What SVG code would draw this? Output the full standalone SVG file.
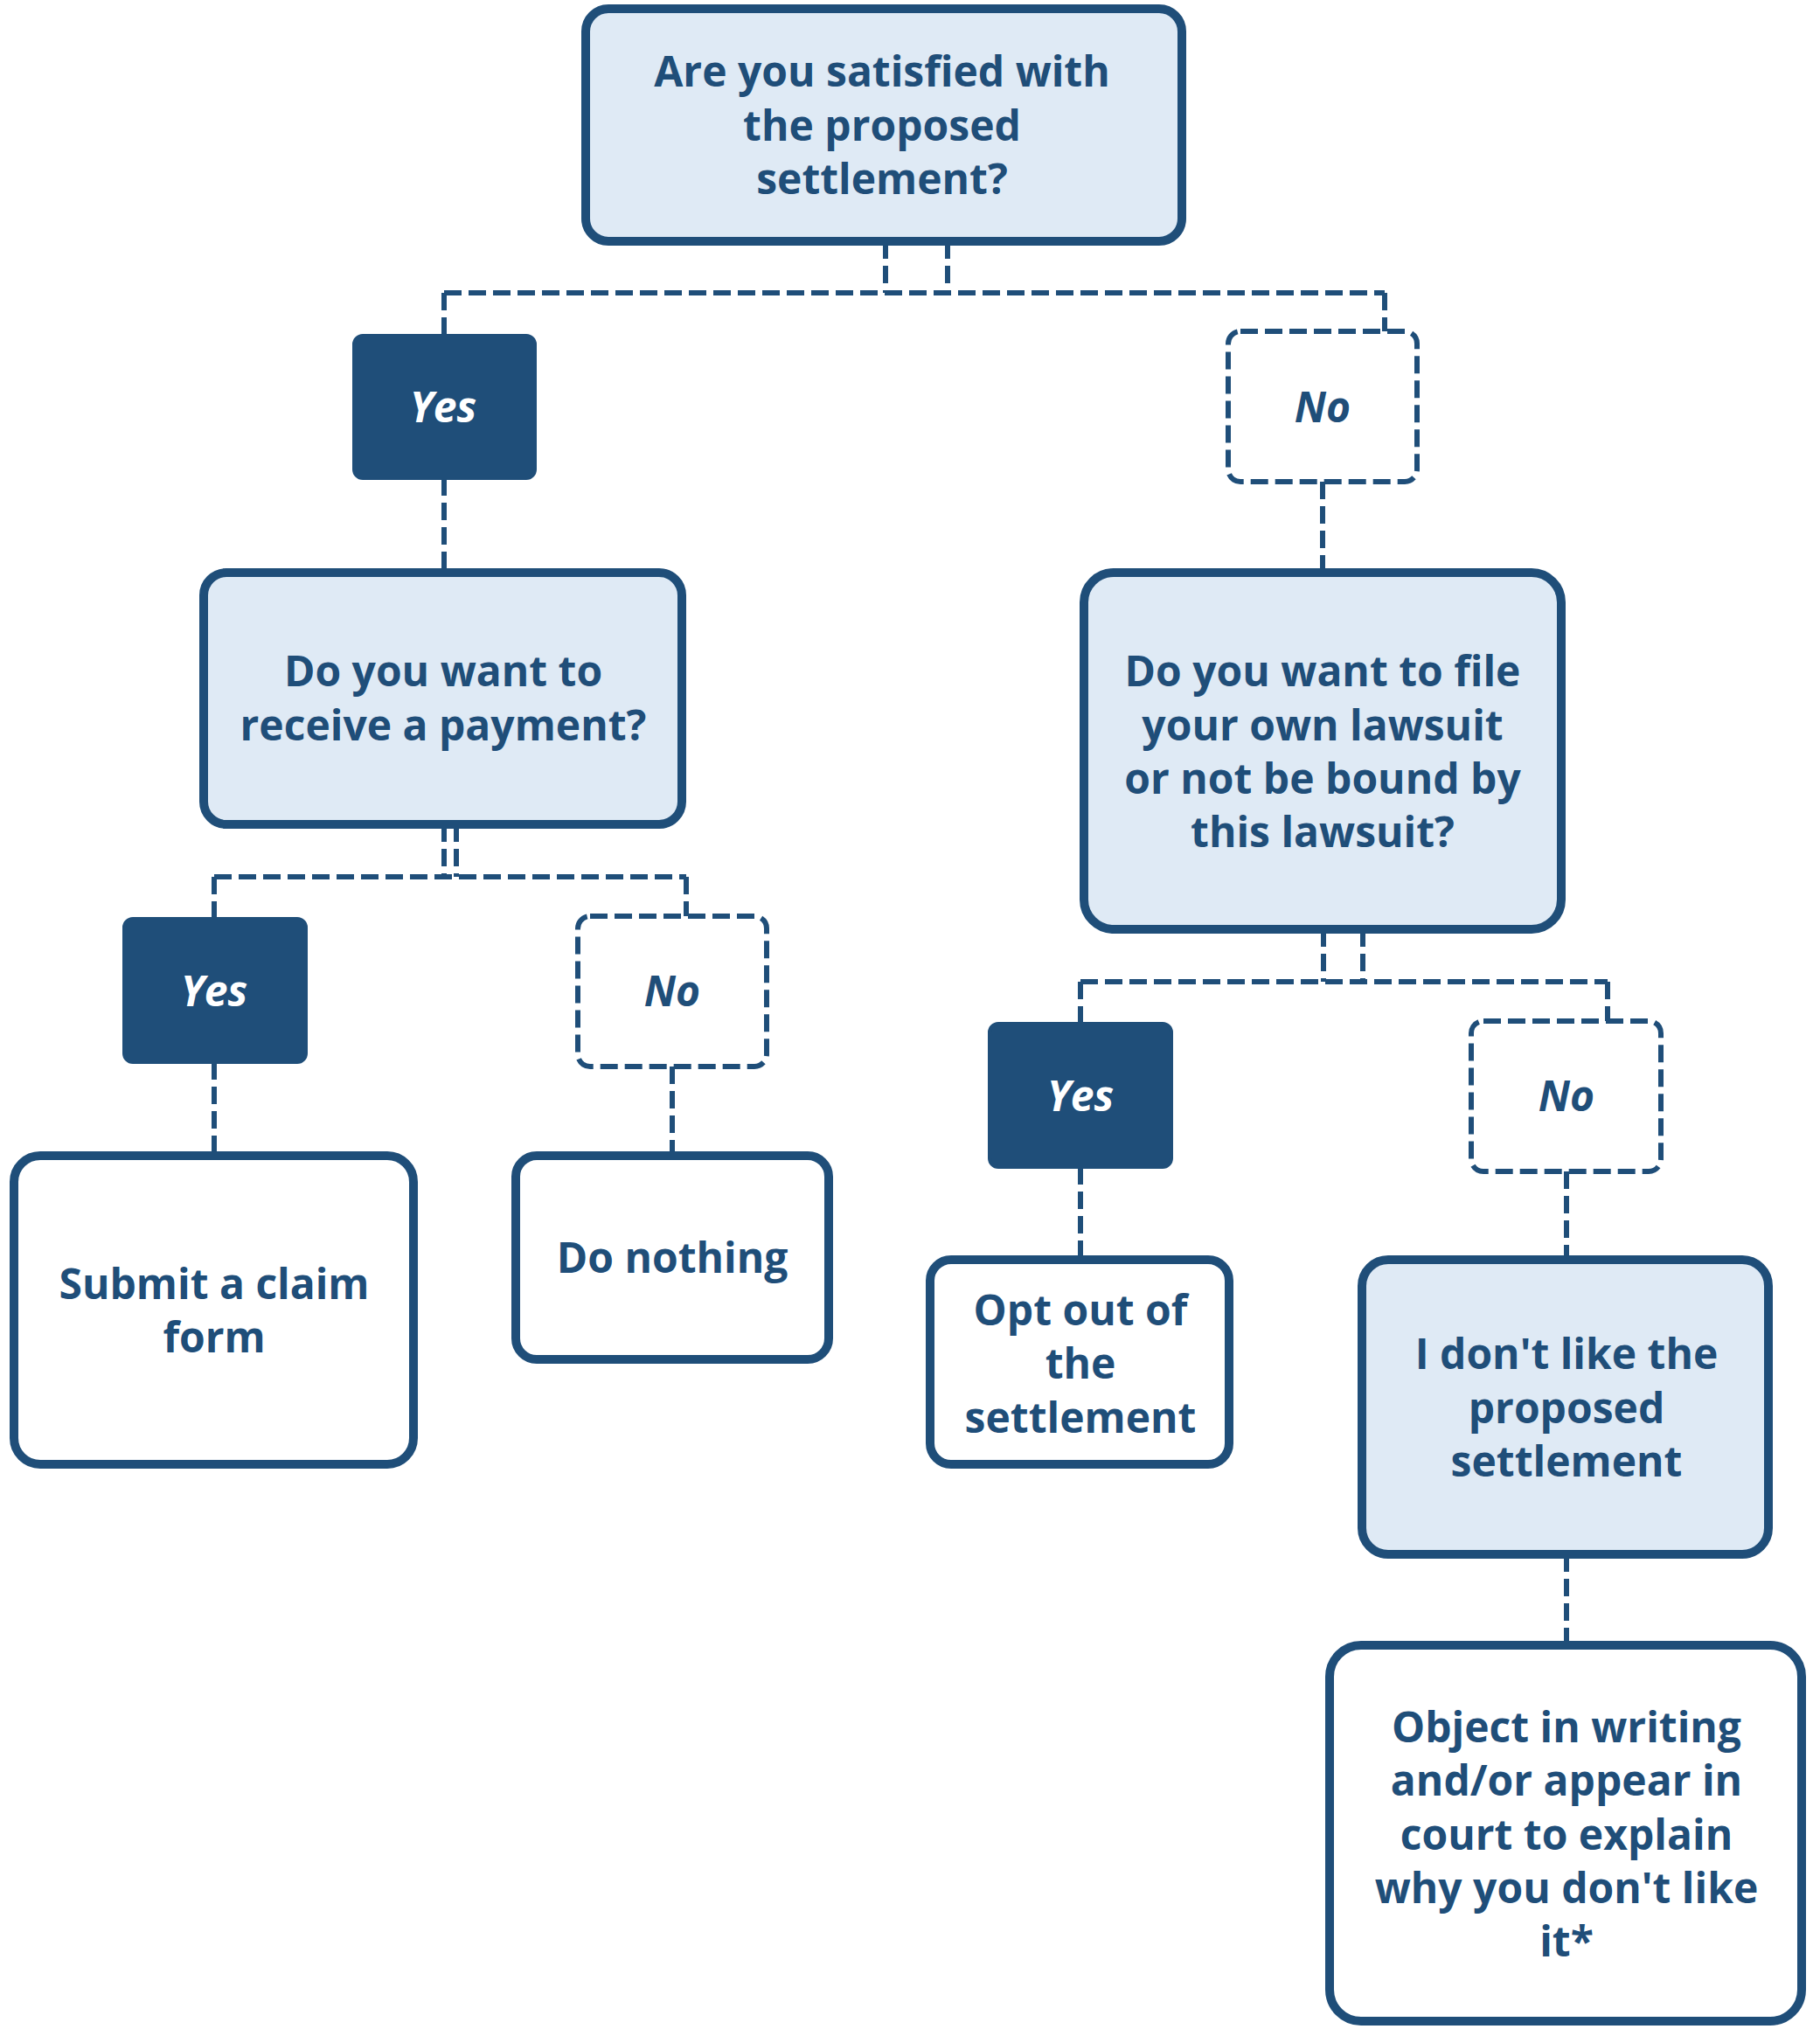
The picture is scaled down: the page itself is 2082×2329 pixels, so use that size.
<svg xmlns="http://www.w3.org/2000/svg" width="2082" height="2329" viewBox="0 0 2082 2329">
<style>
.q{fill:#dfeaf5;stroke:#1f4e79;stroke-width:10}
.a{fill:#fff;stroke:#1f4e79;stroke-width:10}
.y{fill:#1f4e79;stroke:#1f4e79;stroke-width:4}
.n{fill:#fff;stroke:#1f4e79;stroke-width:6;stroke-dasharray:20 8}
.c{fill:none;stroke:#1f4e79;stroke-width:6;stroke-dasharray:20 8}
text{font-family:"Open Sans","Noto Sans",sans-serif;font-weight:bold;font-size:48px;fill:#1f4e79;text-anchor:middle;dominant-baseline:central}
.yt{fill:#fff;font-style:italic}
.nt{font-style:italic}
</style>
<rect width="2082" height="2329" fill="#fff"/>
<g id="connectors">
<path class="c" d="M1013 276V335M1084 276V335M508 335H1584M508 335V384M1584 335V379"/>
<path class="c" d="M508 547V655M1513 551V655"/>
<path class="c" d="M508 943V1003M522 943V1003M245 1003H785M245 1003V1051M785 1003V1048"/>
<path class="c" d="M245 1215V1322M769 1220V1322"/>
<path class="c" d="M1514 1063V1123M1559 1063V1123M1236 1123H1839M1236 1123V1171M1839 1123V1168"/>
<path class="c" d="M1236 1335V1441M1792 1340V1441M1792 1778V1882"/>
</g>
<g id="q1"><rect class="q" x="670" y="10" width="682" height="266" rx="26"/>
<text x="1009" y="80">Are you satisfied with</text><text x="1009" y="142">the proposed</text><text x="1009" y="203">settlement?</text></g>
<g id="yes1"><rect class="y" x="405" y="384" width="207" height="163" rx="10"/><text class="yt" x="507" y="464">Yes</text></g>
<g id="no1"><rect class="n" x="1405" y="379" width="216" height="172" rx="14"/><text class="nt" x="1513" y="464">No</text></g>
<g id="q2"><rect class="q" x="233" y="655" width="547" height="288" rx="26"/>
<text x="507" y="766">Do you want to</text><text x="507" y="828">receive a payment?</text></g>
<g id="q3"><rect class="q" x="1240" y="655" width="546" height="408" rx="34"/>
<text x="1513" y="766">Do you want to file</text><text x="1513" y="828">your own lawsuit</text><text x="1513" y="889">or not be bound by</text><text x="1513" y="950">this lawsuit?</text></g>
<g id="yes2"><rect class="y" x="142" y="1051" width="208" height="164" rx="10"/><text class="yt" x="245" y="1132">Yes</text></g>
<g id="no2"><rect class="n" x="661" y="1048" width="216" height="172" rx="14"/><text class="nt" x="769" y="1132">No</text></g>
<g id="yes3"><rect class="y" x="1132" y="1171" width="208" height="164" rx="10"/><text class="yt" x="1236" y="1252">Yes</text></g>
<g id="no3"><rect class="n" x="1683" y="1168" width="217" height="172" rx="14"/><text class="nt" x="1792" y="1252">No</text></g>
<g id="submit"><rect class="a" x="16" y="1322" width="457" height="353" rx="30"/><text x="245" y="1467">Submit a claim</text><text x="245" y="1528">form</text></g>
<g id="nothing"><rect class="a" x="590" y="1322" width="358" height="233" rx="24"/><text x="769" y="1437">Do nothing</text></g>
<g id="optout"><rect class="a" x="1064" y="1441" width="342" height="234" rx="24"/><text x="1236" y="1497">Opt out of</text><text x="1236" y="1558">the</text><text x="1236" y="1620">settlement</text></g>
<g id="dislike"><rect class="q" x="1558" y="1441" width="465" height="337" rx="30"/><text x="1792" y="1547">I don't like the</text><text x="1792" y="1609">proposed</text><text x="1792" y="1670">settlement</text></g>
<g id="object"><rect class="a" x="1521" y="1882" width="540" height="430" rx="36"/>
<text x="1792" y="1974">Object in writing</text><text x="1792" y="2035">and/or appear in</text><text x="1792" y="2097">court to explain</text><text x="1792" y="2158">why you don't like</text><text x="1792" y="2219">it*</text></g>
</svg>
